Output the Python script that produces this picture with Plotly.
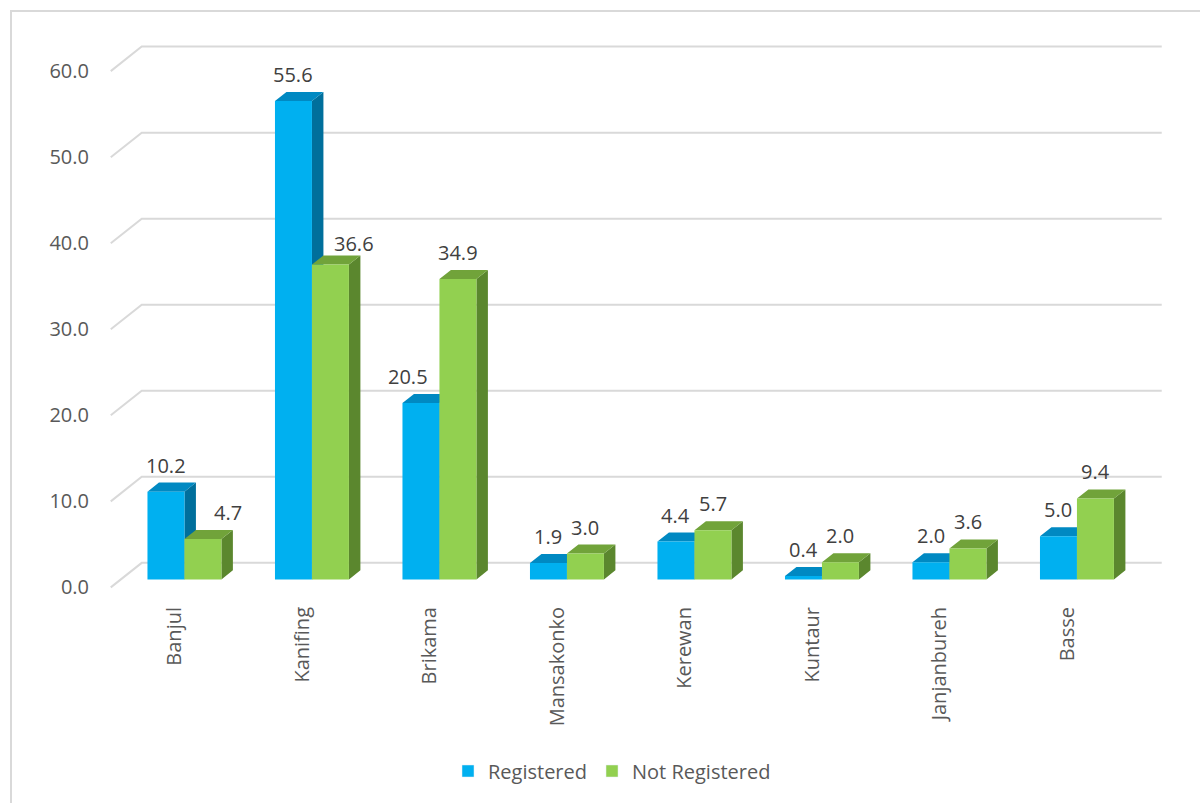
import plotly.graph_objects as go

# ---- data ----
categories = ["Banjul", "Kanifing", "Brikama", "Mansakonko", "Kerewan", "Kuntaur", "Janjanbureh", "Basse"]
registered = [10.2, 55.6, 20.5, 1.9, 4.4, 0.4, 2.0, 5.0]
not_registered = [4.7, 36.6, 34.9, 3.0, 5.7, 2.0, 3.6, 9.4]
y_ticks = [0, 10, 20, 30, 40, 50, 60]
series_names = ["Registered", "Not Registered"]

# ---- style / geometry (in axis units) ----
W, H = 1200, 803
ML, MR, MT, MB = 98, 31, 41, 207
XR = [-0.6, 7.8]
YR = [-1.0, 63.5]
WALL_DX, WALL_DY = 0.243, 2.85      # back-wall perspective offset
BAR_OX, BAR_OY = 0.078, 0.93         # bar front plane offset
BAR_W = 0.29
DEP_DX, DEP_DY = 0.09, 1.05          # bar depth
front_cols = ["#00B0F0", "#92D050"]
top_cols = ["#0089C2", "#71A33A"]
side_cols = ["#006F9C", "#5B872E"]
grid_col = "#D9D9D9"
txt_col = "#595959"
lbl_col = "#404040"
FONT = "Open Sans"
# label nudges (pixels) for labels moved to avoid overlap: (series, category) -> (dx, dy)
label_nudge = {(1, 0): (25, 0), (1, 1): (24, -6), (0, 2): (-13, 0)}

fig = go.Figure()

# gridlines on floor/back wall
gx, gy = [], []
for v in y_ticks:
    gx += [XR[0] + 0.1, XR[0] + 0.1 + WALL_DX, 7.5 + WALL_DX, None]
    gy += [v, v + WALL_DY, v + WALL_DY, None]
fig.add_trace(go.Scatter(x=gx, y=gy, mode="lines", line=dict(color=grid_col, width=2),
                         hoverinfo="skip", showlegend=False))

annotations = []
for s, vals in enumerate([registered, not_registered]):
    sx, sy, tx, ty, fx, fy = [], [], [], [], [], []
    for i, v in enumerate(vals):
        x0 = i + BAR_OX - BAR_W + s * BAR_W
        x1 = x0 + BAR_W
        b = BAR_OY
        t = b + v
        # side
        sx += [x1, x1, x1 + DEP_DX, x1 + DEP_DX, x1, None]
        sy += [b, t, t + DEP_DY, b + DEP_DY, b, None]
        # top
        tx += [x0, x1, x1 + DEP_DX, x0 + DEP_DX, x0, None]
        ty += [t, t, t + DEP_DY, t + DEP_DY, t, None]
        # front
        fx += [x0, x1, x1, x0, x0, None]
        fy += [b, b, t, t, b, None]
        ndx, ndy = label_nudge.get((s, i), (0, 0))
        annotations.append(dict(x=(x0 + x1) / 2, y=t + DEP_DY, text=f"{v:.1f}",
                                showarrow=False, yanchor="bottom", xanchor="center",
                                xshift=ndx, yshift=2 + ndy,
                                font=dict(family=FONT, size=20, color=lbl_col)))
    for xs, ys, col in [(sx, sy, side_cols[s]), (tx, ty, top_cols[s]), (fx, fy, front_cols[s])]:
        fig.add_trace(go.Scatter(x=xs, y=ys, mode="lines", fill="toself", fillcolor=col,
                                 line=dict(width=0, color=col), hoverinfo="skip", showlegend=False))

# legend entries
for s, name in enumerate(series_names):
    fig.add_trace(go.Bar(x=[None], y=[None], name=name, marker=dict(color=front_cols[s])))

plot_w = W - ML - MR
plot_h = H - MT - MB
def px_to_paper_x(p):
    return (p - ML) / plot_w
def px_to_paper_y(p):
    return (H - MB - p) / plot_h

fig.update_layout(
    width=W, height=H,
    margin=dict(l=ML, r=MR, t=MT, b=MB, pad=0),
    paper_bgcolor="white", plot_bgcolor="white",
    font=dict(family=FONT, size=20, color=txt_col),
    xaxis=dict(range=XR, tickvals=list(range(len(categories))), ticktext=categories,
               tickangle=-90, showgrid=False, zeroline=False, showline=False, ticks="",
               ticklabelstandoff=6, fixedrange=True),
    yaxis=dict(range=YR, tickvals=y_ticks, ticktext=[f"{v:.1f}" for v in y_ticks],
               showgrid=False, zeroline=False, showline=False, ticks="",
               ticklabelstandoff=8, fixedrange=True),
    showlegend=True,
    legend=dict(orientation="h", x=px_to_paper_x(612), xanchor="center",
                y=px_to_paper_y(771), yanchor="middle",
                font=dict(family=FONT, size=20, color=txt_col), itemwidth=30),
    annotations=annotations,
    shapes=[dict(type="rect", xref="paper", yref="paper",
                 x0=px_to_paper_x(11), x1=px_to_paper_x(1215),
                 y0=px_to_paper_y(820), y1=px_to_paper_y(11),
                 line=dict(color=grid_col, width=2), layer="below")],
    bargap=0,
)

fig.write_html("out.html")
